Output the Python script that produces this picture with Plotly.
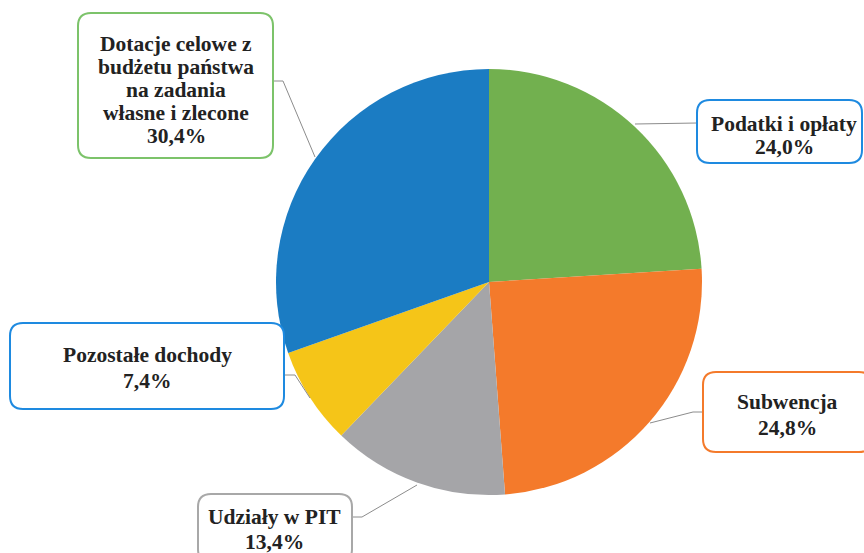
import plotly.graph_objects as go

W, H = 864, 553

labels = ["Podatki i opłaty", "Subwencja", "Udziały w PIT", "Pozostałe dochody",
          "Dotacje celowe z budżetu państwa na zadania własne i zlecone"]
values = [24.0, 24.8, 13.4, 7.4, 30.4]
value_text = ["24,0%", "24,8%", "13,4%", "7,4%", "30,4%"]
box_lines = [
    ["Podatki i opłaty"],
    ["Subwencja"],
    ["Udziały w PIT"],
    ["Pozostałe dochody"],
    ["Dotacje celowe z", "budżetu państwa", "na zadania", "własne i zlecone"],
]
colors = ["#72B04F", "#F47A2B", "#A5A5A8", "#F5C518", "#1B7CC3"]
border_colors = ["#1E8AE0", "#F47A2B", "#A8A8A8", "#1E8AE0", "#7CC36A"]

# box geometry in pixels (x0, y0, x1, y1), text centre x and line y's, leader polyline
boxes = [
    (697, 100, 862, 163), (703, 372, 872, 452), (198, 494, 352, 562),
    (10, 323, 284, 409), (78, 13, 273, 158),
]
text_x = [784, 787, 274, 147, 176]
text_ys = [[122, 145], [400, 426], [515, 540], [353, 379], [42, 65, 88, 111, 134]]
leaders = [
    [(697, 123), (635, 124)],
    [(703, 412), (693, 412), (650, 423)],
    [(352, 517), (362, 517), (417, 485)],
    [(284, 375), (295, 375), (310, 398)],
    [(273, 81), (283, 81), (315, 157)],
]


def px(x):
    return x / W


def py(y):
    return 1 - y / H


def rounded(x0, y0, x1, y1, r=13):
    X0, X1 = px(x0), px(x1)
    Y0, Y1 = py(y0), py(y1)
    rx, ry = r / W, r / H
    return (f"M {X0+rx},{Y0} L {X1-rx},{Y0} Q {X1},{Y0} {X1},{Y0-ry} "
            f"L {X1},{Y1+ry} Q {X1},{Y1} {X1-rx},{Y1} L {X0+rx},{Y1} "
            f"Q {X0},{Y1} {X0},{Y1+ry} L {X0},{Y0-ry} Q {X0},{Y0} {X0+rx},{Y0} Z")


cx, cy, R = 489, 282, 213

fig = go.Figure(go.Pie(
    labels=labels, values=values, sort=False, direction="clockwise", rotation=0,
    marker=dict(colors=colors, line=dict(width=0)),
    textinfo="none", hoverinfo="label+percent", showlegend=False,
    domain=dict(x=[px(cx - R), px(cx + R)], y=[py(cy + R), py(cy - R)]),
))

shapes = []
annotations = []
for i in range(len(labels)):
    pts = leaders[i]
    path = "M " + " L ".join(f"{px(a)},{py(b)}" for a, b in pts)
    shapes.append(dict(type="path", xref="paper", yref="paper", path=path,
                       line=dict(color="#8C8C8C", width=1)))
    shapes.append(dict(type="path", xref="paper", yref="paper", path=rounded(*boxes[i]),
                       fillcolor="white", line=dict(color=border_colors[i], width=2)))
    lines = box_lines[i] + [value_text[i]]
    for line, ty in zip(lines, text_ys[i]):
        annotations.append(dict(
            x=px(text_x[i]), y=py(ty + 2), xref="paper", yref="paper", showarrow=False,
            xanchor="center", yanchor="middle", align="center",
            text=f"<b>{line}</b>",
            font=dict(family="Liberation Serif", size=21.5, color="#222222"),
        ))

fig.update_layout(
    width=W, height=H, margin=dict(l=0, r=0, t=0, b=0),
    paper_bgcolor="white", plot_bgcolor="white",
    shapes=shapes, annotations=annotations,
)

fig.write_html("out.html", config={"displayModeBar": False},
               post_script="document.body.style.margin='0';")
